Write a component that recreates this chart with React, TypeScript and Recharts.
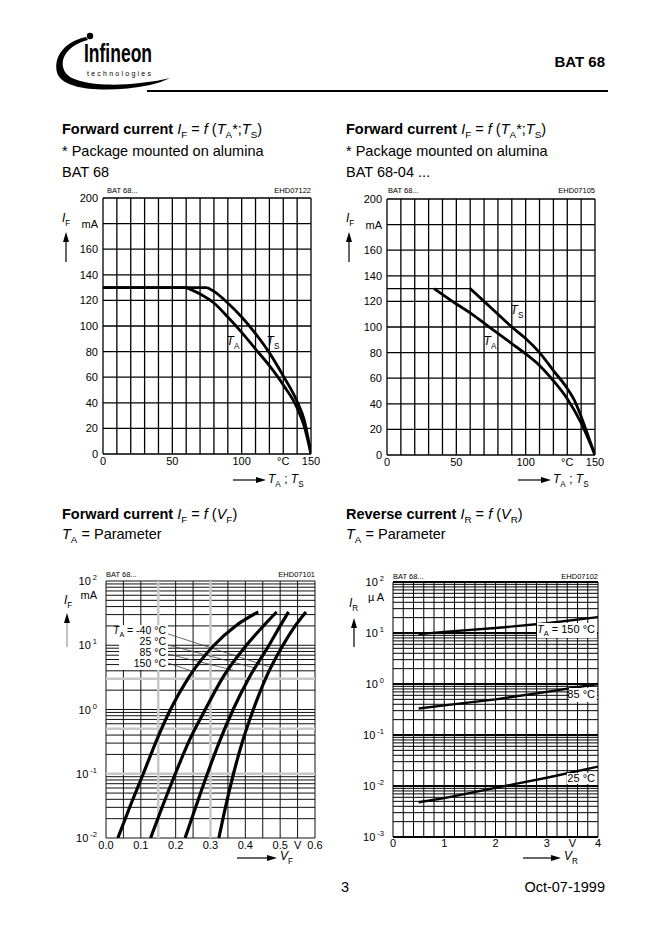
import React from 'react';
import { LineChart, Line, XAxis, YAxis, ReferenceLine } from 'recharts';

const FONT = '"Liberation Sans", Arial, Helvetica, sans-serif';

// ---------- Top charts: forward current derating ----------
const tempTicks = [0, 50, 100, 130, 150];
const ifLinTicks = [0, 20, 40, 60, 80, 100, 120, 140, 160, 180, 200];
const tempGrid = [0, 10, 20, 30, 40, 50, 60, 70, 80, 90, 100, 110, 120, 130, 140, 150];
const ifLinGrid = [0, 20, 40, 60, 80, 100, 120, 140, 160, 180, 200];

// BAT 68
const bat68TAFlat = [{ t: 0, i: 130 }, { t: 60, i: 130 }];
const bat68TACurve = [
  { t: 60, i: 130 }, { t: 70, i: 125 }, { t: 80, i: 118 }, { t: 90, i: 107 }, { t: 100, i: 95 },
  { t: 110, i: 82 }, { t: 120, i: 69 }, { t: 130, i: 54 }, { t: 140, i: 36 }, { t: 145, i: 22 }, { t: 150, i: 0 },
];
const bat68TSFlat = [{ t: 0, i: 130 }, { t: 75, i: 130 }];
const bat68TSCurve = [
  { t: 75, i: 130 }, { t: 80, i: 127 }, { t: 90, i: 118 }, { t: 100, i: 107 }, { t: 110, i: 94 },
  { t: 120, i: 79 }, { t: 130, i: 61 }, { t: 140, i: 41 }, { t: 145, i: 27 }, { t: 150, i: 0 },
];

// BAT 68-04
const bat6804Base = [{ t: 0, i: 130 }, { t: 60, i: 130 }];
const bat6804TA = [
  { t: 34, i: 130 }, { t: 50, i: 118 }, { t: 60, i: 111 }, { t: 70, i: 103 }, { t: 80, i: 95 },
  { t: 90, i: 87 }, { t: 100, i: 79 }, { t: 110, i: 70 }, { t: 120, i: 58 }, { t: 130, i: 44 },
  { t: 140, i: 25 }, { t: 150, i: 0 },
];
const bat6804TS = [
  { t: 60, i: 130 }, { t: 70, i: 120 }, { t: 80, i: 110 }, { t: 90, i: 100 }, { t: 100, i: 91 },
  { t: 110, i: 80 }, { t: 120, i: 66 }, { t: 130, i: 52 }, { t: 135, i: 43 }, { t: 140, i: 30 },
  { t: 145, i: 15 }, { t: 150, i: 0 },
];

// ---------- Bottom-left: I_F = f(V_F) ----------
const vfTicks = [0, 0.1, 0.2, 0.3, 0.4, 0.5, 0.55, 0.6];
const ifLogTicks = [0.01, 0.1, 1, 10, 60, 100];
const vfGrid = [0, 0.05, 0.1, 0.15, 0.2, 0.25, 0.3, 0.35, 0.4, 0.45, 0.5, 0.55, 0.6];
const vfGreyGrid = [0.15, 0.3];
const ifGreyGrid = [0.1, 0.5, 3];
const vf150 = [
  { v: 0.034, i: 0.01 }, { v: 0.07, i: 0.032 }, { v: 0.107, i: 0.1 }, { v: 0.144, i: 0.32 },
  { v: 0.185, i: 1 }, { v: 0.238, i: 3.2 }, { v: 0.31, i: 10 }, { v: 0.372, i: 20 }, { v: 0.437, i: 33 },
];
const vf85 = [
  { v: 0.128, i: 0.01 }, { v: 0.163, i: 0.032 }, { v: 0.199, i: 0.1 }, { v: 0.238, i: 0.32 },
  { v: 0.285, i: 1 }, { v: 0.336, i: 3.2 }, { v: 0.403, i: 10 }, { v: 0.452, i: 20 }, { v: 0.49, i: 33 },
];
const vf25 = [
  { v: 0.227, i: 0.01 }, { v: 0.259, i: 0.032 }, { v: 0.291, i: 0.1 }, { v: 0.326, i: 0.32 },
  { v: 0.365, i: 1 }, { v: 0.412, i: 3.2 }, { v: 0.468, i: 10 }, { v: 0.5, i: 20 }, { v: 0.524, i: 33 },
];
const vfm40 = [
  { v: 0.324, i: 0.01 }, { v: 0.344, i: 0.032 }, { v: 0.366, i: 0.1 }, { v: 0.392, i: 0.32 },
  { v: 0.423, i: 1 }, { v: 0.46, i: 3.2 }, { v: 0.508, i: 10 }, { v: 0.543, i: 20 }, { v: 0.574, i: 33 },
];
// leader lines from the labels to the curves
const leaders = [
  [{ v: 0.178, i: 15 }, { v: 0.47, i: 4.6 }],
  [{ v: 0.178, i: 10.1 }, { v: 0.43, i: 4.4 }],
  [{ v: 0.178, i: 7.3 }, { v: 0.365, i: 4.1 }],
  [{ v: 0.178, i: 5.3 }, { v: 0.25, i: 3.9 }],
];

// ---------- Bottom-right: I_R = f(V_R) ----------
const vrTicks = [0, 1, 2, 3, 3.5, 4];
const irLogTicks = [0.001, 0.01, 0.1, 1, 10, 50, 100];
const vrGrid = [0, 0.2, 0.4, 0.6, 0.8, 1, 1.2, 1.4, 1.6, 1.8, 2, 2.2, 2.4, 2.6, 2.8, 3, 3.2, 3.4, 3.6, 3.8, 4];
const irDecades = [0.001, 0.01, 0.1, 1, 10, 100];
const ir150 = [{ v: 0.5, i: 9.5 }, { v: 1, i: 10.5 }, { v: 2, i: 12.5 }, { v: 3, i: 15.5 }, { v: 4, i: 20.5 }];
const ir85 = [{ v: 0.5, i: 0.33 }, { v: 1, i: 0.38 }, { v: 2, i: 0.5 }, { v: 3, i: 0.7 }, { v: 4, i: 1.0 }];
const ir25 = [{ v: 0.5, i: 0.0048 }, { v: 1, i: 0.0058 }, { v: 2, i: 0.0092 }, { v: 3, i: 0.0145 }, { v: 4, i: 0.024 }];

// log grid values (1..9 per decade)
const logGrid = (from: number, to: number) => {
  const out: number[] = [];
  for (let e = from; e < to; e++) for (let k = 1; k <= 9; k++) out.push(Number((k * Math.pow(10, e)).toPrecision(3)));
  out.push(Math.pow(10, to));
  return out;
};
const ifLogGrid = logGrid(-2, 2);
const irLogGrid = logGrid(-3, 2);

const axisTick = { fontSize: 11, fill: '#000', fontFamily: FONT };

const powTick = (unit: string, unitValue: number) => (props: any) => {
  const { x, y, payload } = props;
  const v = payload.value;
  if (v === unitValue) {
    return (
      <text x={x} y={y + 4} textAnchor="end" fontSize={11} fontFamily={FONT} fill="#000">{unit}</text>
    );
  }
  const e = Math.round(Math.log10(v));
  return (
    <text x={x} y={y + 4} textAnchor="end" fontSize={11} fontFamily={FONT} fill="#000">
      10<tspan dx={2} dy={-5} fontSize={7.5}>{e}</tspan>
    </text>
  );
};

const ISub = ({ m, s, size = 12 }: any) => (
  <span style={{ whiteSpace: 'nowrap' }}>
    <i>{m}</i>
    <span style={{ fontSize: size * 0.68, position: 'relative', top: size * 0.3, fontStyle: 'normal' }}>{s}</span>
  </span>
);

const Txt = ({ x, y, size, anchor = 'start', bold = false, children, bg }: any) => {
  const style: any = {
    position: 'absolute',
    top: y - size * 0.55,
    fontSize: size,
    lineHeight: `${size}px`,
    whiteSpace: 'nowrap',
    fontWeight: bold ? 700 : 400,
    fontFamily: FONT,
    color: '#000',
  };
  if (bg) style.background = bg;
  if (anchor === 'start') style.left = x;
  else if (anchor === 'end') style.right = 662 - x;
  else { style.left = x; style.transform = 'translateX(-50%)'; }
  return <div style={style}>{children}</div>;
};

const Box = ({ x, y, w, h }: any) => (
  <div style={{ position: 'absolute', left: x, top: y, width: w, height: h, background: '#fff' }} />
);

const DerChart = ({ left, top, children }: any) => (
  <div style={{ position: 'absolute', left, top }}>
    <LineChart width={280} height={320} margin={{ top: 18, right: 19, bottom: 16, left: 8 }}>
      <XAxis type="number" dataKey="t" domain={[0, 150]} ticks={tempTicks} interval={0}
        tickFormatter={(v: number) => (v === 130 ? '°C' : String(v))}
        height={30} tickSize={3} tickMargin={0} tickLine={false} axisLine={false} tick={axisTick} allowDataOverflow />
      <YAxis type="number" domain={[0, 200]} ticks={ifLinTicks} interval={0}
        tickFormatter={(v: number) => (v === 180 ? 'mA' : String(v))}
        width={45} tickSize={5} tickMargin={0} tickLine={false} axisLine={false} tick={axisTick} allowDataOverflow />
      {tempGrid.map((g) => <ReferenceLine key={'x' + g} x={g} stroke="#000" strokeWidth={1.3} />)}
      {ifLinGrid.map((g) => <ReferenceLine key={'y' + g} y={g} stroke="#000" strokeWidth={1.3} />)}
      {children}
    </LineChart>
  </div>
);

const curve = (data: any[], key: string, w = 2.8, type: any = 'monotone') => (
  <Line key={key} data={data} dataKey="i" type={type} stroke="#000" strokeWidth={w} dot={false}
    isAnimationActive={false} activeDot={false} />
);

function Overlay() {
  const arrowH = (x1: number, x2: number, y: number) => (
    <g>
      <line x1={x1} y1={y} x2={x2 - 8} y2={y} stroke="#000" strokeWidth={1.2} />
      <polygon points={`${x2},${y} ${x2 - 10},${y - 3} ${x2 - 10},${y + 3}`} fill="#000" />
    </g>
  );
  const arrowV = (x: number, y1: number, y2: number, c = '#000') => (
    <g>
      <line x1={x} y1={y1} x2={x} y2={y2 + 8} stroke={c} strokeWidth={1.2} />
      <polygon points={`${x},${y2} ${x - 3},${y2 + 10} ${x + 3},${y2 + 10}`} fill="#000" />
    </g>
  );
  return (
    <svg width={662} height={936} style={{ position: 'absolute', left: 0, top: 0, pointerEvents: 'none' }}
      fontFamily={FONT}>
      {/* logo */}
      <path d="M 86 37 C 62 42, 52 60, 58 75 C 66 91, 110 93, 150 85 C 158 83, 164 81, 170 78 C 162 80, 150 82, 140 83 C 108 87, 72 84, 65 72 C 58 59, 68 45, 88 40 Z" fill="#000" />
      <circle cx={90} cy={36} r={3.2} fill="#000" />
      <text x={84} y={62} fontSize={25} fontWeight={700} textLength={68} lengthAdjust="spacingAndGlyphs" fill="#000">Infineon</text>
      <text x={87} y={76} fontSize={7} textLength={64} lengthAdjust="spacing" fill="#000">technologies</text>
      {/* header */}
      <text x={605} y={67} fontSize={15} fontWeight={700} textAnchor="end" fill="#000">BAT 68</text>
      <line x1={147} y1={91} x2={608} y2={91} stroke="#000" strokeWidth={2} />
      {/* axis arrows */}
      {arrowH(233, 266, 480)}
      {arrowH(518, 551, 480)}
      {arrowH(237, 277, 858)}
      {arrowH(523, 561, 858)}
      {arrowV(66, 262, 232)}
      {arrowV(349, 262, 232)}
      {arrowV(67, 647, 613, '#999')}
      {arrowV(354, 647, 618)}
    </svg>
  );
}

export default function App() {
  return (
    <div style={{ position: 'absolute', left: 0, top: 0, width: 662, height: 936, background: '#fff', overflow: 'hidden', fontFamily: FONT }}>
      {/* ===== Top-left chart ===== */}
      <DerChart left={50} top={180}>
        {curve(bat68TAFlat, 'taf', 2.8, 'linear')}
        {curve(bat68TACurve, 'tac')}
        {curve(bat68TSFlat, 'tsf', 2.8, 'linear')}
        {curve(bat68TSCurve, 'tsc')}
      </DerChart>

      {/* ===== Top-right chart ===== */}
      <DerChart left={334} top={181}>
        <ReferenceLine segment={[{ x: bat6804Base[0].t, y: bat6804Base[0].i }, { x: bat6804Base[1].t, y: bat6804Base[1].i }]} stroke="#000" strokeWidth={1.3} />
        {curve(bat6804TA, 'ta')}
        {curve(bat6804TS, 'ts')}
      </DerChart>

      {/* ===== Bottom-left chart ===== */}
      <div style={{ position: 'absolute', left: 53, top: 563 }}>
        <LineChart width={280} height={320} margin={{ top: 18, right: 18, bottom: 15, left: 8 }}>
          <XAxis type="number" dataKey="v" domain={[0, 0.6]} ticks={vfTicks} interval={0}
            tickFormatter={(v: number) => (v === 0.55 ? 'V' : v.toFixed(1))}
            height={30} tickSize={3} tickMargin={0} tickLine={false} axisLine={false} tick={axisTick} allowDataOverflow />
          <YAxis type="number" scale="log" domain={[0.01, 100]} ticks={ifLogTicks} interval={0}
            width={45} tickSize={9} tickMargin={0} tickLine={false} axisLine={false}
            tick={powTick('mA', 60)} allowDataOverflow />
          {vfGrid.map((g) => <ReferenceLine key={'x' + g} x={g} stroke="#111" strokeWidth={1} />)}
          {ifLogGrid.map((g) => <ReferenceLine key={'y' + g} y={g} stroke="#111" strokeWidth={1} />)}
          {vfGreyGrid.map((g) => <ReferenceLine key={'gx' + g} x={g} stroke="#c8c8c8" strokeWidth={2.5} />)}
          {ifGreyGrid.map((g) => <ReferenceLine key={'gy' + g} y={g} stroke="#c8c8c8" strokeWidth={2.5} />)}
          {leaders.map((s, k) => (
            <ReferenceLine key={'l' + k} segment={[{ x: s[0].v, y: s[0].i }, { x: s[1].v, y: s[1].i }]} stroke="#444" strokeWidth={0.8} />
          ))}
          {curve(vf150, 'c150', 3.2)}
          {curve(vf85, 'c85', 3.2)}
          {curve(vf25, 'c25', 3.2)}
          {curve(vfm40, 'cm40', 3.2)}
        </LineChart>
      </div>

      {/* ===== Bottom-right chart ===== */}
      <div style={{ position: 'absolute', left: 340, top: 564 }}>
        <LineChart width={280} height={320} margin={{ top: 18, right: 22, bottom: 17, left: 8 }}>
          <XAxis type="number" dataKey="v" domain={[0, 4]} ticks={vrTicks} interval={0}
            tickFormatter={(v: number) => (v === 3.5 ? 'V' : String(v))}
            height={30} tickSize={2} tickMargin={0} tickLine={false} axisLine={false} tick={axisTick} allowDataOverflow />
          <YAxis type="number" scale="log" domain={[0.001, 100]} ticks={irLogTicks} interval={0}
            width={45} tickSize={9} tickMargin={0} tickLine={false} axisLine={false}
            tick={powTick('µ A', 50)} allowDataOverflow />
          {vrGrid.map((g) => <ReferenceLine key={'x' + g} x={g} stroke="#000" strokeWidth={1} />)}
          {irLogGrid.map((g) => <ReferenceLine key={'y' + g} y={g} stroke="#000" strokeWidth={1} />)}
          {irDecades.map((g) => <ReferenceLine key={'d' + g} y={g} stroke="#000" strokeWidth={2} />)}
          {curve(ir150, 'r150', 2.4, 'linear')}
          {curve(ir85, 'r85', 2.4, 'linear')}
          {curve(ir25, 'r25', 2.4, 'linear')}
        </LineChart>
      </div>

      {/* chart small captions */}
      <Txt x={107} y={191} size={7.5}>BAT 68...</Txt>
      <Txt x={311} y={191} size={7.5} anchor="end">EHD07122</Txt>
      <Txt x={388} y={191} size={7.5}>BAT 68...</Txt>
      <Txt x={595} y={191} size={7.5} anchor="end">EHD07105</Txt>
      <Txt x={106} y={575} size={7.5}>BAT 68...</Txt>
      <Txt x={315} y={575} size={7.5} anchor="end">EHD07101</Txt>
      <Txt x={393} y={577} size={7.5}>BAT 68...</Txt>
      <Txt x={598} y={577} size={7.5} anchor="end">EHD07102</Txt>

      {/* curve labels top charts */}
      <Txt x={233} y={342} size={12} anchor="middle"><ISub m="T" s="A" /></Txt>
      <Txt x={273} y={342} size={12} anchor="middle"><ISub m="T" s="S" /></Txt>
      <Txt x={517} y={311} size={12} anchor="middle"><ISub m="T" s="S" /></Txt>
      <Txt x={490} y={342} size={12} anchor="middle"><ISub m="T" s="A" /></Txt>

      {/* bottom-left legend */}
      <Box x={119} y={625} w={49} h={45} />
      <Txt x={166} y={631} size={10.5} anchor="end"><ISub m="T" s="A" size={10.5} /> = -40 °C</Txt>
      <Txt x={166} y={642} size={10.5} anchor="end">25 °C</Txt>
      <Txt x={166} y={653} size={10.5} anchor="end">85 °C</Txt>
      <Txt x={166} y={664} size={10.5} anchor="end">150 °C</Txt>

      {/* bottom-right labels */}
      <Box x={537} y={623} w={60} h={15} />
      <Txt x={595} y={630} size={11} anchor="end"><ISub m="T" s="A" size={11} /> = 150 °C</Txt>
      <Box x={569} y={688} w={28} h={14} />
      <Txt x={595} y={695} size={11} anchor="end">85 °C</Txt>
      <Txt x={595} y={779} size={11} anchor="end" bg="#fff">25 °C</Txt>

      {/* axis titles */}
      <Txt x={62} y={219} size={12}><ISub m="I" s="F" /></Txt>
      <Txt x={346} y={219} size={12}><ISub m="I" s="F" /></Txt>
      <Txt x={64} y={601} size={12}><ISub m="I" s="F" /></Txt>
      <Txt x={349} y={604} size={12}><ISub m="I" s="R" /></Txt>
      <Txt x={268} y={480} size={12}><ISub m="T" s="A" />&nbsp;; <ISub m="T" s="S" /></Txt>
      <Txt x={553} y={480} size={12}><ISub m="T" s="A" />&nbsp;; <ISub m="T" s="S" /></Txt>
      <Txt x={280} y={857} size={12}><ISub m="V" s="F" /></Txt>
      <Txt x={564} y={857} size={12}><ISub m="V" s="R" /></Txt>

      {/* titles */}
      <Txt x={62} y={130} size={14.5}><b>Forward current</b> <ISub m="I" s="F" size={14.5} /> = <i>f</i> (<ISub m="T" s="A" size={14.5} />*;<ISub m="T" s="S" size={14.5} />)</Txt>
      <Txt x={62} y={152} size={14.5}>* Package mounted on alumina</Txt>
      <Txt x={62} y={173} size={14.5}>BAT 68</Txt>
      <Txt x={346} y={130} size={14.5}><b>Forward current</b> <ISub m="I" s="F" size={14.5} /> = <i>f</i> (<ISub m="T" s="A" size={14.5} />*;<ISub m="T" s="S" size={14.5} />)</Txt>
      <Txt x={346} y={152} size={14.5}>* Package mounted on alumina</Txt>
      <Txt x={346} y={173} size={14.5}>BAT 68-04 ...</Txt>
      <Txt x={62} y={515} size={14.5}><b>Forward current</b> <ISub m="I" s="F" size={14.5} /> = <i>f</i> (<ISub m="V" s="F" size={14.5} />)</Txt>
      <Txt x={62} y={535} size={14.5}><ISub m="T" s="A" size={14.5} /> = Parameter</Txt>
      <Txt x={346} y={515} size={14.5}><b>Reverse current</b> <ISub m="I" s="R" size={14.5} /> = <i>f</i> (<ISub m="V" s="R" size={14.5} />)</Txt>
      <Txt x={346} y={535} size={14.5}><ISub m="T" s="A" size={14.5} /> = Parameter</Txt>

      {/* footer */}
      <Txt x={345} y={888} size={14.5} anchor="middle">3</Txt>
      <Txt x={605} y={888} size={14.5} anchor="end">Oct-07-1999</Txt>

      <Overlay />
    </div>
  );
}
